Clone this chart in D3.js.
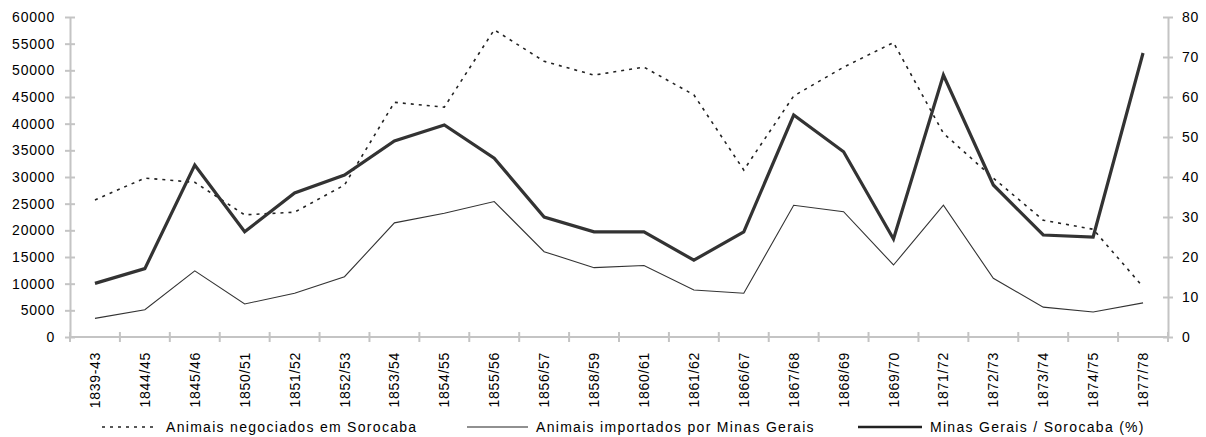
<!DOCTYPE html>
<html lang="pt">
<head>
<meta charset="UTF-8">
<title>Sorocaba / Minas Gerais</title>
<style>
  body { margin: 0; background: #fff; font-family: 'Liberation Sans', Arial, sans-serif; }
  svg text { fill: #000; font-size: 14px; }
  .axis path, .axis line { stroke: #c4c4c4; stroke-width: 2px; }
</style>
</head>
<body>
<svg id="chart" width="1206" height="437"></svg>
<script src="https://cdn.jsdelivr.net/npm/d3@7/dist/d3.min.js"></script>
<script>
// periods on the x axis
var periods = ['1839-43','1844/45','1845/46','1850/51','1851/52','1852/53','1853/54','1854/55',
  '1855/56','1856/57','1858/59','1860/61','1861/62','1866/67','1867/68','1868/69','1869/70',
  '1871/72','1872/73','1873/74','1874/75','1877/78'];

// animals traded in Sorocaba (left axis)
var sorocaba = [25700, 29800, 29000, 22900, 23400, 28500, 44000, 43100, 57600, 51700, 49100,
  50600, 45400, 31300, 45200, 50600, 55200, 38200, 29800, 21900, 20200, 9400];

// animals imported by Minas Gerais (left axis)
var minas = [3500, 5100, 12400, 6200, 8200, 11300, 21400, 23200, 25400, 16000, 13000,
  13400, 8800, 8200, 24700, 23500, 13500, 24700, 11000, 5600, 4700, 6400];

// Minas Gerais / Sorocaba in % (right axis)
var ratio = [13.4, 17.1, 43, 26.3, 36, 40.5, 49, 53, 44.7, 30, 26.3, 26.3, 19.2, 26.3,
  55.5, 46.3, 24.5, 65.5, 38, 25.5, 25, 71];

var leftTicks = d3.range(0, 60001, 5000);
var rightTicks = d3.range(0, 81, 10);

var legendLabels = ['Animais negociados em Sorocaba', 'Animais importados por Minas Gerais',
  'Minas Gerais / Sorocaba (%)'];

var svg = d3.select('#chart');
var plotLeft = 70, plotRight = 1168, plotTop = 17, plotBottom = 337;

var x = d3.scaleBand().domain(periods).range([plotLeft, plotRight]);
var yL = d3.scaleLinear().domain([0, 60000]).range([plotBottom, plotTop]);
var yR = d3.scaleLinear().domain([0, 80]).range([plotBottom, plotTop]);

// left axis
var gl = svg.append('g').attr('class', 'axis').attr('transform', 'translate(' + plotLeft + ',0)')
  .call(d3.axisLeft(yL).tickValues(leftTicks).tickSize(5).tickSizeOuter(0).tickPadding(10).tickFormat(d3.format('d')));
gl.selectAll('.tick line').attr('x1', 5).attr('x2', -5);
gl.selectAll('text').attr('font-size', null).attr('font-family', null).style('letter-spacing', '0.8px');

// right axis
var gr = svg.append('g').attr('class', 'axis').attr('transform', 'translate(' + plotRight + ',0)')
  .call(d3.axisRight(yR).tickValues(rightTicks).tickSize(5).tickSizeOuter(0).tickPadding(9));
gr.selectAll('.tick line').attr('x1', -5).attr('x2', 5);
gr.selectAll('text').attr('font-size', null).attr('font-family', null).style('letter-spacing', '0.8px');

// bottom axis: line, ticks at band edges, rotated labels
var gx = svg.append('g').attr('class', 'axis');
gx.append('line').attr('x1', plotLeft).attr('x2', plotRight).attr('y1', plotBottom).attr('y2', plotBottom);
var edges = periods.map(function (p) { return x(p); }).concat([plotRight]);
gx.selectAll('line.edge').data(edges).enter().append('line').attr('class', 'edge')
  .attr('x1', function (d) { return d; }).attr('x2', function (d) { return d; })
  .attr('y1', plotBottom - 5).attr('y2', plotBottom + 5);
gx.selectAll('text').data(periods).enter().append('text')
  .attr('transform', function (d) { return 'translate(' + (x(d) + x.bandwidth() / 2 + 5) + ',' + (plotBottom + 15) + ') rotate(-90)'; })
  .attr('text-anchor', 'end')
  .style('letter-spacing', '0.7px')
  .text(function (d) { return d; });

// lines
var cx = function (d, i) { return x(periods[i]) + x.bandwidth() / 2; };
var lineL = d3.line().x(cx).y(function (d) { return yL(d); });
var lineR = d3.line().x(cx).y(function (d) { return yR(d); });

svg.append('path').datum(sorocaba).attr('d', lineL)
  .attr('fill', 'none').attr('stroke', '#222').attr('stroke-width', 1.6).attr('stroke-dasharray', '3,5');
svg.append('path').datum(minas).attr('d', lineL)
  .attr('fill', 'none').attr('stroke', '#333').attr('stroke-width', 1.1);
svg.append('path').datum(ratio).attr('d', lineR)
  .attr('fill', 'none').attr('stroke', '#333').attr('stroke-width', 3.2).attr('stroke-linejoin', 'miter');

// legend
var legendStyle = [
  { x: 102, w: 56, width: 1.6, dash: '3,5' },
  { x: 467, w: 61, width: 1.1, dash: null },
  { x: 858, w: 64, width: 2.4, dash: null }
];
var ly = 427;
var lg = svg.selectAll('g.legend').data(legendLabels).enter().append('g').attr('class', 'legend');
lg.append('line')
  .attr('x1', function (d, i) { return legendStyle[i].x; })
  .attr('x2', function (d, i) { return legendStyle[i].x + legendStyle[i].w; })
  .attr('y1', ly).attr('y2', ly).attr('stroke', '#222')
  .attr('stroke-width', function (d, i) { return legendStyle[i].width; })
  .attr('stroke-dasharray', function (d, i) { return legendStyle[i].dash; });
lg.append('text')
  .attr('x', function (d, i) { return legendStyle[i].x + legendStyle[i].w + 8; })
  .attr('y', ly + 5)
  .style('letter-spacing', '1.3px')
  .text(function (d) { return d; });
</script>
</body>
</html>
